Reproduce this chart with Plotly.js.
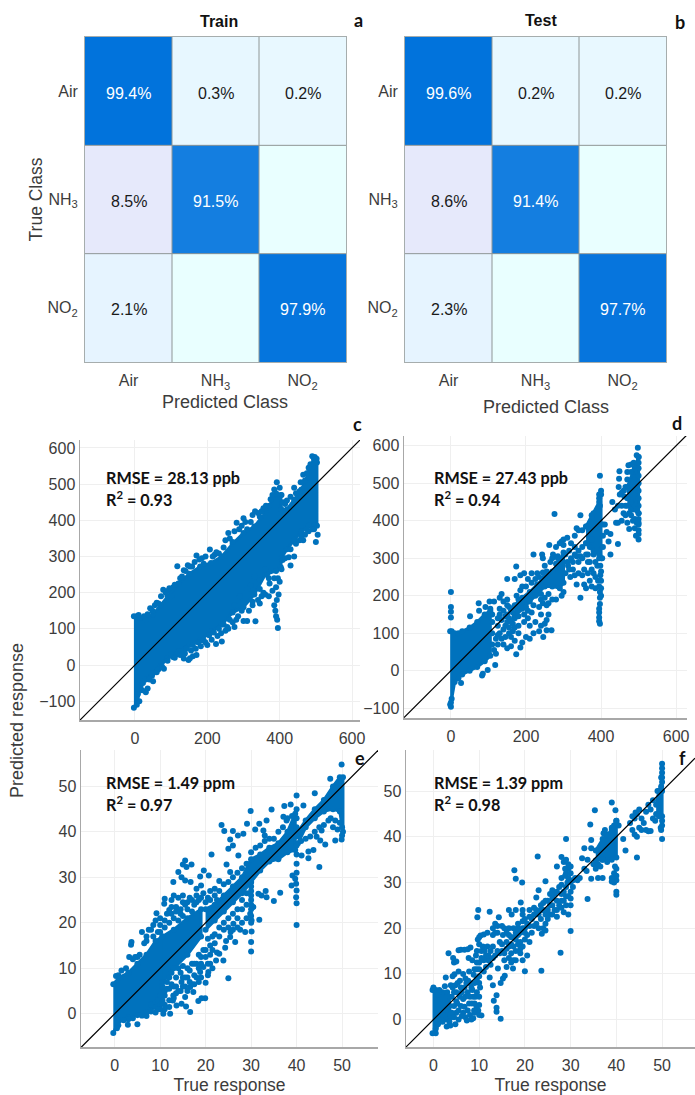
<!DOCTYPE html>
<html>
<head>
<meta charset="utf-8">
<script src="https://cdn.plot.ly/plotly-3.0.1.min.js"></script>
<style>html,body{margin:0;padding:0;background:#fff}#chart{width:695px;height:1095px}</style>
</head>
<body>
<div id="chart"></div>
<script>
// ---------- confusion matrices ----------
const classLabels = ['Air', 'NH<sub>3</sub>', 'NO<sub>2</sub>'];
const trainValues = [[99.4, 0.3, 0.2], [8.5, 91.5, null], [2.1, null, 97.9]];
const testValues  = [[99.6, 0.2, 0.2], [8.6, 91.4, null], [2.3, null, 97.7]];

// ---------- metrics ----------
const metricC = ['RMSE = 28.13 ppb', 'R<sup>2</sup> = 0.93'];
const metricD = ['RMSE = 27.43 ppb', 'R<sup>2</sup> = 0.94'];
const metricE = ['RMSE = 1.49 ppm', 'R<sup>2</sup> = 0.97'];
const metricF = ['RMSE = 1.39 ppm', 'R<sup>2</sup> = 0.98'];

const cCoreX     = [-3, 5, 15, 30, 50, 70, 90, 120, 150, 180, 210, 240, 270, 300, 330, 360, 390, 403, 405, 420, 440, 460, 480, 495, 503];
const cCoreUpper = [135, 135, 130, 125, 140, 165, 190, 225, 252, 272, 282, 300, 335, 365, 383, 420, 475, 470, 430, 430, 457, 485, 531, 568, 560];
const cCoreLower = [-118, -110, -59, -40, -22, -4, 20, 38, 55, 68, 92, 112, 145, 160, 195, 250, 260, 270, 296, 320, 345, 370, 385, 385, 385];
const cPoints = [[42,157],[60,172],[78,208],[92,205],[100,190],[106,215],[117,273],[130,245],[140,260],[146,276],[158,272],[170,303],[178,292],[190,280],[207,319],[220,305],[232,308],[250,345],[258,365],[270,340],[281,393],[288,375],[300,406],[310,375],[332,425],[345,410],[355,433],[372,440],[375,458],[392,505],[400,490],[405,470],[415,445],[420,455],[440,490],[455,480],[465,526],[475,530],[480,545],[490,577],[497,575],[502,570],
[50,-45],[20,-70],[30,-75],[35,-65],[12,-100],[80,-10],[60,-20],[152,19],[160,24],[170,28],[148,14],[135,18],[224,58],[240,65],[200,55],[275,105],[300,122],[310,122],[333,121],[258,100],[250,95],
[395,102],[393,125],[390,135],[388,150],[385,165],[392,180],[397,195],[390,215],[380,205],[370,190],[360,195],[355,200],[345,210],[345,235],[370,240],[385,240],[365,250],[360,265],[400,230],[405,265],[430,275],[425,298],[440,300],[460,355],[470,360],[480,370],[500,340],[505,360],[490,375],[465,345],[330,245],[320,220],[310,210],[290,190],[275,165],[340,180],[325,165],
[10,138],[25,135],[35,140],[48,150],[55,165],[65,170],[72,190],[85,200],[95,212],[110,222],[125,240],[135,262],[152,272],[165,285],[185,295],[195,300],[215,300],[225,312],[245,325],[262,350],[275,370],[295,385],[305,395],[320,395],[325,415],[340,420],[350,425],[362,440],[380,470],[385,485],[410,450],[430,465],[445,475],[458,505],[470,510],[485,555],[495,560],
[8,-80],[6,-60],[22,-50],[40,-40],[47,-30],[65,-12],[75,-5],[90,12],[105,22],[115,30],[128,38],[142,45],[160,55],[175,62],[190,68],[205,82],[218,90],[232,100],[245,112],[262,125],[285,135],[295,150],[315,150],[325,175],[345,170],[350,190],[372,225],[395,240],[408,290],[415,295],[430,320],[445,335],[455,345],[475,375],[495,375],
[100,30],[110,20],[125,28],[138,32],[155,40],[168,45],[182,52],[195,62],[212,70],[228,80],[238,88],[255,105],[270,118],[280,125]];

// ---------- panel d ----------
const dBand1X = [-2, 2, 10, 20, 30, 50, 70, 90, 105];
const dBand1Upper = [105, 105, 100, 100, 105, 115, 130, 150, 160];
const dBand1Lower = [-90, -75, -30, -20, -10, 0, 10, 25, 40];
const dBand2X = [170, 190, 210, 230, 250, 270, 290, 300];
const dBand2Upper = [175, 195, 210, 230, 250, 265, 290, 315];
const dBand2Lower = [145, 165, 185, 205, 225, 225, 220, 235];
const dBand3X = [360, 380, 395, 400];
const dBand3Upper = [385, 420, 450, 470];
const dBand3Lower = [340, 320, 310, 300];
const dBand4X = [470, 485, 500];
const dBand4Upper = [490, 530, 570];
const dBand4Lower = [440, 430, 420];
const dPoints = [[0,210],[0,170],[0,157],[0,142],[0,-96],[0,-85],[27,-33],[83,-13],[85,-8],[98,2],[118,15],[174,44],[185,62],[246,90],[255,108],[268,108],
[74,180],[51,145],[75,160],[92,170],[103,185],[115,185],[130,195],[135,205],[150,190],[150,245],[170,245],[174,278],[185,255],[195,260],[205,245],[215,260],[230,260],[245,262],[220,310],[243,310],[245,300],[262,335],[276,418],[272,310],[285,305],[345,415],[340,375],[300,350],[300,335],[295,345],[310,355],[320,340],[335,380],[330,360],[350,375],[360,385],[375,415],
[130,100],[120,85],[140,70],[150,60],[160,65],[170,80],[180,100],[190,75],[200,90],[210,85],[220,100],[235,105],[240,120],[250,125],[255,135],[260,150],[240,150],[225,130],[210,120],[195,130],[180,120],[165,105],[155,100],[140,110],[205,140],[215,155],[235,170],[245,180],[260,180],[270,190],[280,190],[295,200],[300,210],[255,175],
[305,260],[312,280],[320,300],[325,270],[330,255],[335,230],[340,290],[345,195],[350,255],[355,230],[360,220],[365,290],[370,240],[375,225],[380,310],[385,220],[390,280],[392,240],[395,225],[398,255],[385,290],[375,270],[360,310],[350,300],[340,320],[330,310],[315,320],
[397,125],[395,132],[395,142],[395,155],[395,165],[397,178],[397,195],[397,210],[400,200],[400,220],[400,480],[395,460],[397,440],[397,520],[395,470],
[405,330],[405,360],[410,390],[415,370],[420,345],[425,365],[425,310],[445,338],[430,450],[437,430],[440,395],[445,395],[455,400],[462,465],[470,395],[475,378],[480,415],[490,405],[490,380],[480,450],[465,415],[470,530],[455,475],[450,470],[445,440],
[500,350],[500,365],[500,375],[500,390],[500,405],[500,420],[500,440],[500,460],[500,480],[500,500],[500,520],[500,540],[500,555],[500,570],[498,595],[495,575],[490,540],[480,550],[470,510],
[105,165],[110,150],[110,130],[110,100],[110,70],[115,55],[120,45],[125,140],[125,120],[125,95],[125,70],[130,165],[130,150],[135,135],[135,85],[140,185],[140,160],[145,145],[145,120],[145,90],[150,175],[150,150],[150,130],[155,170],[155,140],[155,115],[160,160],[160,130],[160,90],[165,155],[165,125],[170,170],[170,140],[170,115],[175,200],[180,190],[180,145],[185,215],[190,225],[195,150],[200,170],[200,225],[205,160],[215,235],[220,175],[225,200],[225,245],[235,250],[240,190],[250,280],[255,265],[265,290],[270,300],[280,330],[285,300],[290,340],[280,285],[260,205],[250,195],[240,205],
[305,310],[310,290],[315,270],[318,250],[325,290],[330,330],[335,305],[340,260],[345,305],[350,330],[355,270],[360,340],[365,260],[365,310],[370,330],[370,290],[375,350],[380,260],[385,250],[390,320],[395,300],[398,280],[400,265],[400,240],[403,300],[405,390],
[455,440],[460,420],[465,440],[470,460],[475,420],[480,430],[485,400],[490,440],[495,430],[495,480],[490,490],[485,470],[475,480],[465,490],[460,480],[495,395],[500,395],[493,360],[449,532],[448,512],[447,490],[473,548],[487,555],[480,530]];

// ---------- panel e ----------
const eBand1X = [-0.3, 1, 3, 5, 7, 9, 10.5];
const eBand1Upper = [6.5, 8, 9, 11, 13, 16, 17];
const eBand1Lower = [-4.2, -1.5, -0.8, -0.3, 0.3, 1.5, 3];
const eBand2X = [10.5, 13, 16, 19];
const eBand2Upper = [17, 18.5, 21, 23];
const eBand2Lower = [7, 10, 13, 17];
const eBand3X = [20, 22, 24, 26, 28, 30, 32, 34, 36, 38, 39.7];
const eBand3Upper = [23, 24, 26, 28, 30, 34, 35, 36.5, 37.5, 40, 44];
const eBand3Lower = [18.5, 20.5, 22.5, 24.5, 26.5, 29, 31.5, 33.5, 34, 35.5, 36];
const eBand4X = [40.3, 42, 44, 46, 48, 49.5, 50.2];
const eBand4Upper = [40, 42.5, 45, 47, 50, 52, 52];
const eBand4Lower = [37.5, 41, 43, 44.5, 45, 44.5, 40];
const ePoints = [[3.7,15.8],[3.6,15.2],[9.2,22.1],[11,25.3],[10.9,24.2],[12.9,29],[14,31.2],[15.5,33.7],[15,32.8],[16.9,32.8],[15.8,32.3],[14.7,30],[15.5,29.3],[16.7,29],[18.8,30.2],[19.6,31.5],[20.7,30.4],[18,27.5],[19,28.2],[21.3,35],[23.5,41.5],[24.1,40.2],[25.4,38.3],[26,40.2],[27.1,39.2],[28.3,39.6],[29.1,41.8],[29.9,44.6],[31.8,41.8],[33.4,42.5],[34.5,44.9],[37.3,45.7],[38.7,46],[40,48],[41.5,45.8],[44,48.5],[47.4,51.7],[49.9,54.8],[24.6,32.8],[23,29.2],[25.4,31.2],[27.2,34.8],[26,37],[25,36.3],[30.9,40.5],[32.7,40.3],[33,39.2],[37.1,43.3],[37.8,42.5],
[5,-2.3],[2.9,-2.4],[16.6,0.4],[25,7.8],[19.9,3.4],[19.1,3.4],[18.4,2.8],[15.5,3.7],[15.7,1.6],[14.7,2.2],[13.6,1.8],[12.2,0],[10.7,0],[12.8,2.9],[12.9,4],[17.3,4.8],[16.6,5.9],[14.7,7],[20,6.8],[20.6,9.2],[18.8,9.2],[19.5,10.3],[22.3,11.7],[23.9,11.7],[23,13.2],[24.3,14.5],[26.5,15.8],[25.4,16.9],[28.7,18],[30.1,18.1],[30,15.8],[30,13.7],[27.6,18.5],[26.1,19.8],[31.8,20.7],[30.1,20.5],[29.8,22],[30.5,23.5],[35,24.8],[36.4,26.6],[33.4,25.6],[31.6,26.4],[32.3,26],[33.2,27],[40,19.5],[40,24.3],[39.9,25.6],[40,27.1],[39.9,28.6],[38.9,28.2],[39.1,30.4],[39.7,29.7],[45,32.3],[42.6,34.2],[41.1,34.8],[42.6,35.7],[43.7,36],[46.3,37.2],[48.5,38.1],[49.9,38.3],[50,39.2],[45.2,38.1],[44.4,38.9],[45.5,40.3],
[9,20.5],[10,21],[11.5,22],[12.5,25],[13,26],[14,25.5],[15,26],[16,24.5],[17,25],[12,22.8],[13.5,23.5],[14.5,23],[8.5,19.5],[6,18],[7.5,18.5],[7,16],[5,12.5],[4,12],[3.2,12.5],[30,20],[30,21.5],[30,23],[30,24],[30,25],[30,26],[30,27],[30,28],[30,29],[40,31],[40,33],[40,35],[40,37],[40,39],[40,41],[40,43],[40,45],
[8,2],[9.5,3],[11,4],[12,5.5],[10,2],[13.5,6],[15,8],[16,10],[17.5,11],[18.5,13],[14,10],[19,12.5],[20,14],[21,13],[22,15.5],[20.5,16.5],[23,17],[25,19],[24,18.5],[27,21],[28,23],
[10,18],[11,19],[12,20],[12.5,22],[13,21],[14,20.5],[14.5,22],[15,21.5],[15.5,24],[16,23],[17,22.5],[17.5,24],[18,24.5],[18.5,25],[19,25.5],[20,24.5],[20.5,25.5],[21,25],[22,26],[22.5,25],[23,27],[7,17],[8,18.5],[6.5,15.5],[5.5,13],[4.5,12.5],[2.5,10],[1.5,9.5],[0.3,8.3],[0.8,8.5],
[10,4],[11,5],[11.5,7],[12,8],[12.5,9],[13,6],[13.5,8],[14,5],[14.5,9],[15,10.5],[15.5,6],[16,8],[16.5,9.5],[17,11],[17.5,8.5],[18,11],[18.5,7],[19,11],[19.5,14],[20,12.5],[20.5,11],[21,15],[21.5,17],[22,17.5],[23,19],[24,20],[25,21],[26,22],[27,23],[28,25],[29,26.5],[8,0.5],[9,0.3],[10,1],[11,2],[7,-0.5],[6,-0.4],[4,-1],[3,-1.2],[0.8,-2.5],[0.5,-3.2],[2,-1.4],
[41,38],[42,38.5],[43,39],[44,40],[45,41],[46,41.5],[47,42.5],[48,41],[48.5,42.5],[47.5,43],[49,40.5],[50,41],[49.5,42],
[11,1],[12,3],[13,3.5],[13.5,4.5],[14.5,5],[15,6],[15.5,8],[16.5,7],[17,6.5],[17.5,6.5],[18,8],[18.5,10],[12.5,6.5],[11.5,5.5],[10.5,6],[9.5,1],[10.5,2.5],[12,1.5],[16,5],[19,8],[20.5,8.5],[21,11],[21.5,10],[22.5,13.5],[21.5,14],[24.5,16],[25.5,18],[26,18.5],[27,19],[28,20],[29,21],[29,24],
[11,20.5],[9.5,18],[8.5,17],[10,19.5],[12.5,23.5],[13.5,22.5],[15,24.5],[16.5,25.5],[18,26],[19.5,26.5],[21,27],[22,27.5],[24,28.5],[25,29],[26,30],[27,31],[28,32],[29,33],[30,35.5],[31,36.5],[32,37],[33,38],[34,38.5],[35,38.5],[36,40],[37,41],[38,43],[39,43.5]];

// ---------- panel f ----------
const fBand1X = [-0.2, 0.5, 1, 2, 3, 3.5];
const fBand1Upper = [6.5, 6.5, 5.5, 6, 6, 5];
const fBand1Lower = [-3, -3, -1, -0.5, 0, 0.5];
const fBand2X = [35.5, 37, 38, 39, 40];
const fBand2Upper = [37, 39.5, 40.5, 41.5, 43.5];
const fBand2Lower = [34.8, 35, 35, 35, 35.5];
const fBand3X = [48.7, 49.3, 50];
const fBand3Upper = [47, 50, 52];
const fBand3Lower = [45, 44.5, 44.5];
const fPoints = [[0,7],[1.3,6.5],[2.5,7.3],[2.7,9.2],[3.3,14.5],[3.8,7.5],[4.2,9.5],[4.3,13.5],[4.5,12.5],[4.6,9.9],[5,12.7],[5.5,15.2],[6,15.3],[6.8,15.3],[7.5,15.4],[8.1,15.8],[7.7,13.5],[5.5,10.5],[6.5,10],[7,9],[7.8,10.5],[8.5,13],[9.3,14],[9.5,15],[9.7,17.5],[10,16.5],[10,18],[9.6,22.4],[9.8,24],[10.3,18.4],[11,18.6],[11.8,19],[12.3,23.6],[13,20],[13.5,21],[14,20.5],[14.3,22.4],[14,19],[15,20.5],[15.2,18.5],[16.5,24],[17.1,23],[18,24],[16.5,20],[17.5,20],[17.7,32.7],[18,30.8],[19.4,30],[19.1,25.6],[18.5,21],
[3.8,0.5],[3.7,-1.3],[4.5,3],[5,1.5],[5.5,2],[5.8,5],[6,3],[6.5,1.5],[7,0.5],[7.3,-0.2],[7.5,2],[7.8,3.5],[8,1],[8.3,0],[8.7,0.3],[9,1.5],[9.4,3],[10,3.2],[10.5,0.9],[9.2,5],[9.5,6],[10,5],[10.2,7],[10,8],[8,5],[8.5,6.5],[7.5,6],[7,5],[6.5,4.5],[6,7],[9,8],[9.5,9],[10,9.5],[8.8,9.8],[8,8],[5,6],[4.5,6],[3.6,3],[4,5],[5,4],[9.5,11],[10,11],[10,12.5],[9.5,12.5],[9,11],
[13.8,5.3],[13.2,4.1],[13.8,2.6],[13.8,1.7],[14.7,0.2],[13,7.5],[14.7,8],[15.6,9.6],[15.2,9],[12.3,9.2],[14.1,11.2],[16,11.5],[17.4,11.2],[20,10.6],[23.6,10.7],[27.8,14.6],[30,19.4],[11,10.5],[11.5,11.5],[12,13],[12.5,12],[12,14],[11.5,14],[11,13],[13,13.5],[13.5,14],[14,15],[14.5,14.5],[15,15],[15.5,14.5],[16,15.5],[16.5,16],[17,16.5],[17.5,16],[17,14.5],[16.5,13.5],[15.5,13],[17.5,13],[15,16.5],[16,17],[17,18],[18,17.5],[18.5,18.5],[19,19],[19.5,20],[19.5,21.5],[20,22],[19.5,23],[19.5,24],[20,20],[20.5,18.5],[20,17.5],[19.5,16],[19,15.5],[18,15],[19,14.5],[19.5,13],[20.5,14],[21,17],[21,20.5],[21.5,22],[21,24],[22,24.5],[22.5,26.7],[23,28.3],[23.5,25],[24,24],[22.5,21],[23,20],[23.5,22],[24,20],[24.5,19.5],[23.7,18.8],[24.5,21],[25,24],[25.5,23],[25,26],[25.5,27.5],[24.5,30.3],[26,28.3],[26.5,27.5],[26,25],[26,23],[27,24],[27,26],[27,28],[27.5,29],[28,26],[28,24.5],[28.5,23.5],[29,25],[29.5,23],[30,25],[29,27],[28.5,28],[29,29],[28,31],[27,33.5],[28,35.6],[28.5,34.5],[29,35],[29.5,34],[29,32],[29.5,33],[30,32],[30,30],[30,28],[30,26.5],[29,39.5],[22.8,35.7],[28.8,31.5],
[31,31],[31.5,30.5],[32,31],[33,33],[33.5,32.5],[32.5,35.3],[33.7,35],[33.7,26.4],[34.5,30.8],[35,34],[36,34],[35.5,33],[36,31],[37,31],[36.5,33.5],[37,35],[38,34.5],[34.5,37.5],[33,37.5],[34.5,39.3],[34.3,42.7],[35.3,45.8],[37.2,40.8],[37.5,41.5],[38,39],
[39,47.5],[39.8,45.8],[40,43.5],[39.5,42.5],[39,42],[40.5,42.5],[40,43],[41.5,39.5],[42,37],[44.5,35.5],
[40,27.3],[40,28],[39.5,30],[40,30.5],[39,30.2],[40,31.5],[39.5,32],[40,33],[39.7,33.5],[39,31],
[43,43],[43.5,41.5],[44,40.5],[44.5,40],[45,42],[45.5,41.5],[46,43],[46.5,41.5],[47,41.2],[47.5,41.3],[44,44],[44.5,45],[45,46],[45.5,44],[46.5,45.5],[47,47],[47.5,46],[48,44],[48.5,43.5],[48,48],[49,50],[49.5,49],[43.5,44.5],[44.2,45.3],
[50,39.5],[49.8,41.5],[50,42.5],[49.7,42],[50,43.5],[50,53],[50,54],[50,55],[50,56],[49.8,51],[50,50],[49.8,53],
[0.5,-2],[2,1],[3.3,2],[3.5,-0.5],[4,1.5],[4.5,0.5],[4.8,-1],[5.2,3.5],[2.9,-1.5],[3.2,3.5],[3.5,5],[4.2,7],[4.8,7.5],[5.3,8],[5.8,8.5],[6.2,6],[6.8,7],[7.2,8],[7.6,8.5],[8.3,7],[8.7,5],[9,3.5],[9.8,2],[10,1],[8.9,2],[8.4,3.5],[6.8,2.8],[6.2,0.8],[5.5,0],
[10.5,15],[10.5,13.5],[10.8,16],[11.2,15],[11.8,16],[12.5,15],[13,16],[13,18.5],[13.5,19],[14.5,17],[15.5,20],[16,19],[16.5,18.5],[17.5,18],[18,19],[18.5,20],[18.5,16.5],[18,13],[17,12.5],[19,17],[20,19],[20.5,21],[21,22.5],[21.5,19],[22,20.5],[22,23],[22.5,24],[23,23],[23.5,24],[24,25.5],[24.5,23],[24.5,26],[25,22],[25.5,25],[26,26.5],[26.5,24],[27,22.5],[27.5,25],[28,27.5],[28.5,26],[29.5,27],[29.3,30],[28,29.5],[29.5,31],[28.8,33],[30,33.5],[30.5,30.5],[30.5,29]];

// ---------- helpers ----------
const W = 695, H = 1095;
const blue = '#0072bd';
const textColor = '#3c3c3c';
const arial = '"Liberation Sans", Arial, sans-serif';
const calibri = 'Lato, "Noto Sans", sans-serif';

const traces = [];
const annotations = [];
const shapes = [];
const layout = {
  width: W, height: H, margin: {l: 0, r: 0, t: 0, b: 0},
  paper_bgcolor: '#fff', plot_bgcolor: '#fff', showlegend: false,
  font: {family: arial, color: textColor},
  annotations, shapes
};
const domX = (a, b) => [a / W, b / W];
const domY = (top, bottom) => [1 - bottom / H, 1 - top / H];
const axName = (i, letter) => letter + (i === 1 ? '' : i);
const axKey = (i, letter) => letter + 'axis' + (i === 1 ? '' : i);

function note(text, px, py, size, opts) {
  annotations.push(Object.assign({
    text, x: px / W, y: 1 - py / H, xref: 'paper', yref: 'paper',
    showarrow: false, xanchor: 'center', yanchor: 'middle',
    font: {family: arial, size, color: textColor}
  }, opts || {}));
}

const colorStops = [[0, '#e9ffff'], [0.002, '#e8f8ff'], [0.003, '#e7f7ff'], [0.021, '#e6f4ff'], [0.085, '#e6e9fb'], [0.915, '#147ee0'], [0.94, '#0f7adf'], [1, '#0072dc']];

function confusion(i, box, values, showYTitle) {
  const xa = axName(i, 'x'), ya = axName(i, 'y');
  traces.push({
    type: 'heatmap', x: [0, 1, 2], y: [0, 1, 2],
    z: values.map(r => r.map(v => v === null ? 0 : v)),
    xaxis: xa, yaxis: ya, zmin: 0, zmax: 100, colorscale: colorStops, showscale: false, hoverinfo: 'skip'
  });
  layout[axKey(i, 'x')] = {
    domain: domX(box[0], box[1]), anchor: ya, range: [-0.5, 2.5], tickvals: [0, 1, 2], ticktext: classLabels,
    showgrid: false, zeroline: false, ticks: '', ticklabelstandoff: 4, showline: true, mirror: true, linecolor: '#a6adad', linewidth: 1,
    tickfont: {family: arial, size: 16, color: textColor}
  };
  layout[axKey(i, 'y')] = {
    domain: domY(box[2], box[3]), anchor: xa, range: [2.5, -0.5], tickvals: [0, 1, 2], ticktext: classLabels,
    showgrid: false, zeroline: false, ticks: '', ticklabelstandoff: 3, showline: true, mirror: true, linecolor: '#a6adad', linewidth: 1,
    tickfont: {family: arial, size: 16, color: textColor},
    title: showYTitle ? {text: 'True Class', font: {family: arial, size: 17.5, color: textColor}, standoff: 0} : undefined
  };
  [0.5, 1.5].forEach(p => {
    shapes.push({type: 'line', xref: xa, yref: ya, x0: p, x1: p, y0: -0.5, y1: 2.5, line: {color: '#8f9696', width: 1}});
    shapes.push({type: 'line', xref: xa, yref: ya, x0: -0.5, x1: 2.5, y0: p, y1: p, line: {color: '#8f9696', width: 1}});
  });
  values.forEach((row, r) => row.forEach((v, c) => {
    if (v === null) return;
    annotations.push({
      text: v.toFixed(1) + '%', x: c, y: r, xref: xa, yref: ya, showarrow: false, yshift: -2,
      font: {family: arial, size: 16, color: v > 50 ? '#ffffff' : '#1a1a1a'}
    });
  }));
}

function scatterPanel(i, box, xr, yr, xticks, yticks, bands, points, metric, metricPos, xTitle) {
  const xa = axName(i, 'x'), ya = axName(i, 'y');
  bands.forEach(b => {
    traces.push({
      type: 'scatter', mode: 'lines+markers', fill: 'toself', fillcolor: blue,
      x: b[0].concat(b[0].slice().reverse()),
      y: b[1].concat(b[2].slice().reverse()),
      xaxis: xa, yaxis: ya, line: {color: blue, width: 3}, marker: {color: blue, size: 6}, hoverinfo: 'skip'
    });
  });
  traces.push({
    type: 'scatter', mode: 'markers', x: points.map(p => p[0]), y: points.map(p => p[1]),
    xaxis: xa, yaxis: ya, marker: {color: blue, size: 6}, hoverinfo: 'skip'
  });
  traces.push({
    type: 'scatter', mode: 'lines', x: [xr[0], xr[1]], y: [xr[0], xr[1]], xaxis: xa, yaxis: ya,
    line: {color: '#000000', width: 1.2}, hoverinfo: 'skip'
  });
  const common = {
    showgrid: true, gridcolor: '#efefef', gridwidth: 1, zeroline: false, showline: true,
    linecolor: '#a8a8a8', linewidth: 1.5, ticks: '', tickfont: {family: arial, size: 16, color: textColor}
  };
  layout[axKey(i, 'x')] = Object.assign({}, common, {
    domain: domX(box[0], box[1]), anchor: ya, range: xr, tickvals: xticks, ticklabelstandoff: 3,
    title: xTitle ? {text: 'True response', font: {family: arial, size: 17.5, color: textColor}, standoff: 14} : undefined
  });
  layout[axKey(i, 'y')] = Object.assign({}, common, {
    domain: domY(box[2], box[3]), anchor: xa, range: yr, tickvals: yticks, ticklabelstandoff: 0
  });
  metric.forEach((m, k) => {
    note('<b>' + m + '</b>', metricPos[0], metricPos[1] + k * 21, 15, {xanchor: 'left', font: {family: calibri, size: 16.2, color: '#111111'}});
  });
}

// ---------- build ----------
confusion(1, [85, 346, 37, 362], trainValues, true);
confusion(2, [405, 666, 37, 362], testValues, false);

const ppbTicks = [0, 200, 400, 600];
const ppbYTicks = [-100, 0, 100, 200, 300, 400, 500, 600];
const ppmTicks = [0, 10, 20, 30, 40, 50];
scatterPanel(3, [80, 360, 440, 720], [-152, 622], [-152, 622], ppbTicks, ppbYTicks, [[cCoreX, cCoreUpper, cCoreLower]], cPoints, metricC, [104, 477], false);
scatterPanel(4, [404, 687, 436, 718], [-125, 629], [-126, 626], ppbTicks, ppbYTicks,
  [[dBand1X, dBand1Upper, dBand1Lower], [dBand2X, dBand2Upper, dBand2Lower], [dBand3X, dBand3Upper, dBand3Lower], [dBand4X, dBand4Upper, dBand4Lower]], dPoints, metricD, [431.5, 477], false);
scatterPanel(5, [81, 378, 750, 1047], [-7.4, 57.9], [-7.3, 58], ppmTicks, ppmTicks,
  [[eBand1X, eBand1Upper, eBand1Lower], [eBand2X, eBand2Upper, eBand2Lower], [eBand3X, eBand3Upper, eBand3Lower], [eBand4X, eBand4Upper, eBand4Lower]], ePoints, metricE, [104, 782], true);
scatterPanel(6, [406, 695, 750, 1047], [-6, 57.2], [-6, 59], ppmTicks, ppmTicks,
  [[fBand1X, fBand1Upper, fBand1Lower], [fBand2X, fBand2Upper, fBand2Lower], [fBand3X, fBand3Upper, fBand3Lower]], fPoints, metricF, [431.5, 782], true);

note('<b>Train</b>', 219, 21, 16, {font: {family: arial, size: 16, color: '#111111'}});
note('<b>Test</b>', 541, 20, 16, {font: {family: arial, size: 16, color: '#111111'}});
note('Predicted Class', 225, 402, 18);
note('Predicted Class', 546, 407, 18);
note('Predicted response', 17, 721, 18, {textangle: -90});

const panelLetters = [['a', 358, 20], ['b', 680, 22], ['c', 357, 424], ['d', 677, 423], ['e', 360, 758], ['f', 682, 758]];
panelLetters.forEach(l => note('<b>' + l[0] + '</b>', l[1], l[2], 18, {font: {family: calibri, size: 18, color: '#111111'}}));

Plotly.newPlot('chart', traces, layout, {staticPlot: true, displayModeBar: false});
</script>
</body>
</html>
